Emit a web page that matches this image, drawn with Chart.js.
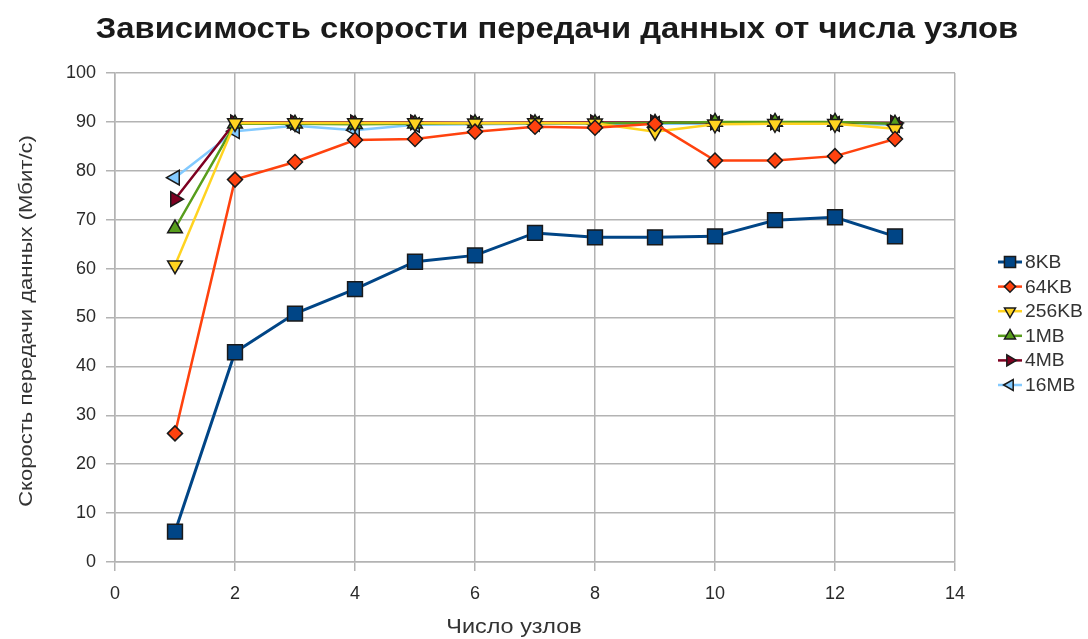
<!DOCTYPE html>
<html>
<head>
<meta charset="utf-8">
<script src="https://cdn.jsdelivr.net/npm/chart.js@4.4.1/dist/chart.umd.min.js"></script>
<style>
  html, body { margin: 0; padding: 0; background: #fff; }
  #wrap { width: 1088px; height: 639px; }
</style>
</head>
<body>
<div id="wrap"><canvas id="c" width="1088" height="639"></canvas></div>
<script>
// Число узлов
const nodes = [1, 2, 3, 4, 5, 6, 7, 8, 9, 10, 11, 12, 13];

// Скорость передачи (Мбит/с) для разных размеров сообщений
const speed8KB   = [6.2, 42.9, 50.8, 55.8, 61.4, 62.7, 67.3, 66.4, 66.4, 66.6, 69.9, 70.5, 66.6];
const speed64KB  = [26.3, 78.2, 81.8, 86.3, 86.5, 88.0, 89.0, 88.8, 89.6, 82.1, 82.1, 83.0, 86.5];
const speed256KB = [60.7, 89.8, 89.8, 89.8, 89.8, 89.7, 89.8, 89.7, 88.0, 89.5, 89.6, 89.6, 88.6];
const speed1MB   = [68.2, 89.6, 89.6, 89.5, 89.6, 89.7, 89.7, 89.7, 89.8, 90.0, 90.0, 90.0, 89.6];
const speed4MB   = [74.2, 89.9, 89.9, 89.9, 89.9, 89.8, 89.9, 89.9, 89.9, 89.9, 89.9, 89.9, 89.8];
const speed16MB  = [78.6, 88.1, 89.2, 88.3, 89.4, 89.5, 89.6, 89.6, 89.6, 89.6, 89.6, 89.6, 89.4];

const seriesNames = ['8KB', '64KB', '256KB', '1MB', '4MB', '16MB'];
const seriesData = [speed8KB, speed64KB, speed256KB, speed1MB, speed4MB, speed16MB];

const xTickValues = [0, 2, 4, 6, 8, 10, 12, 14];
const yTickValues = [0, 10, 20, 30, 40, 50, 60, 70, 80, 90, 100];

const chartTitle = 'Зависимость скорости передачи данных от числа узлов';
const xTitle = 'Число узлов';
const yTitle = 'Скорость передачи данных (Мбит/с)';

// Оформление серий
const palette = ['#004586', '#ff420e', '#ffd320', '#579d1c', '#7e0021', '#83caff'];
const markers = [
  { style: 'rect',     rotation: 0,   radius: 10.5, width: 3 },
  { style: 'rectRot',  rotation: 0,   radius: 7.5,  width: 2.5 },
  { style: 'triangle', rotation: 180, radius: 8.5,  width: 2.5 },
  { style: 'triangle', rotation: 0,   radius: 8.5,  width: 2.5 },
  { style: 'triangle', rotation: 90,  radius: 8.5,  width: 2.5 },
  { style: 'triangle', rotation: 270, radius: 8.5,  width: 2.5 }
];
const markerEdge = '#1a1a1a';
const FONT = "'Liberation Sans', Arial, sans-serif";

const datasets = seriesNames.map((name, i) => ({
  label: name,
  data: nodes.map((n, k) => ({ x: n, y: seriesData[i][k] })),
  borderColor: palette[i],
  backgroundColor: palette[i],
  borderWidth: markers[i].width,
  pointStyle: markers[i].style,
  rotation: markers[i].rotation,
  pointRadius: markers[i].radius,
  pointHoverRadius: markers[i].radius,
  pointBackgroundColor: palette[i],
  pointBorderColor: markerEdge,
  pointBorderWidth: 1.5,
  tension: 0,
  fill: false
}));

// Текст, слегка растянутый вдоль строки
function drawText(ctx, text, x, y, font, stretch, angle, align) {
  ctx.save();
  ctx.translate(x, y);
  if (angle) ctx.rotate(angle);
  ctx.scale(stretch, 1);
  ctx.font = font;
  ctx.textAlign = align || 'center';
  ctx.textBaseline = 'middle';
  ctx.fillText(text, 0, 0);
  ctx.restore();
}

// Заголовок, подписи осей и легенда
const decorations = {
  id: 'decorations',
  afterDraw(chart) {
    const ctx = chart.ctx;
    ctx.save();
    ctx.fillStyle = '#1a1a1a';
    drawText(ctx, chartTitle, 557, 30, 'bold 29px ' + FONT, 1.13, 0);

    ctx.fillStyle = '#333333';
    drawText(ctx, xTitle, 514, 627, '20px ' + FONT, 1.17, 0);
    drawText(ctx, yTitle, 27, 321, '19px ' + FONT, 1.16, -Math.PI / 2);

    // легенда справа
    const lx = 998, ly0 = 262, step = 24.6;
    chart.data.datasets.forEach((ds, i) => {
      const y = ly0 + i * step;
      ctx.strokeStyle = palette[i];
      ctx.lineWidth = markers[i].width;
      ctx.beginPath();
      ctx.moveTo(lx, y);
      ctx.lineTo(lx + 24, y);
      ctx.stroke();
      ctx.fillStyle = palette[i];
      ctx.strokeStyle = markerEdge;
      ctx.lineWidth = 1.5;
      Chart.helpers.drawPoint(ctx, {
        pointStyle: markers[i].style,
        rotation: markers[i].rotation,
        radius: markers[i].radius * 0.75,
        borderWidth: 1.5
      }, lx + 12, y);
      ctx.fillStyle = '#333333';
      drawText(ctx, ds.label, lx + 27, y + 1, '18px ' + FONT, 1.07, 0, 'left');
    });
    ctx.restore();
  }
};

const gridColor = '#b3b3b3';

new Chart(document.getElementById('c'), {
  type: 'line',
  data: { datasets },
  options: {
    responsive: false,
    devicePixelRatio: 1,
    animation: false,
    layout: { padding: { left: 0, right: 133, top: 73, bottom: 0 } },
    plugins: {
      legend: { display: false },
      title: { display: false },
      tooltip: { enabled: false }
    },
    scales: {
      x: {
        type: 'linear',
        min: 0,
        max: 14,
        afterFit(scale) { scale.height = 77; },
        afterBuildTicks(scale) { scale.ticks = xTickValues.map(v => ({ value: v })); },
        grid: { color: gridColor, lineWidth: 1.5, tickLength: 9, tickColor: gridColor },
        border: { color: gridColor, width: 1.5 },
        ticks: { color: '#2a2a2a', font: { family: FONT, size: 18 }, padding: 12, maxRotation: 0 }
      },
      y: {
        min: 0,
        max: 100,
        afterFit(scale) { scale.width = 115; },
        afterBuildTicks(scale) { scale.ticks = yTickValues.map(v => ({ value: v })); },
        grid: { color: gridColor, lineWidth: 1.5, tickLength: 9, tickColor: gridColor },
        border: { color: gridColor, width: 1.5 },
        ticks: { color: '#2a2a2a', font: { family: FONT, size: 18 }, padding: 10 }
      }
    }
  },
  plugins: [decorations]
});
</script>
</body>
</html>
